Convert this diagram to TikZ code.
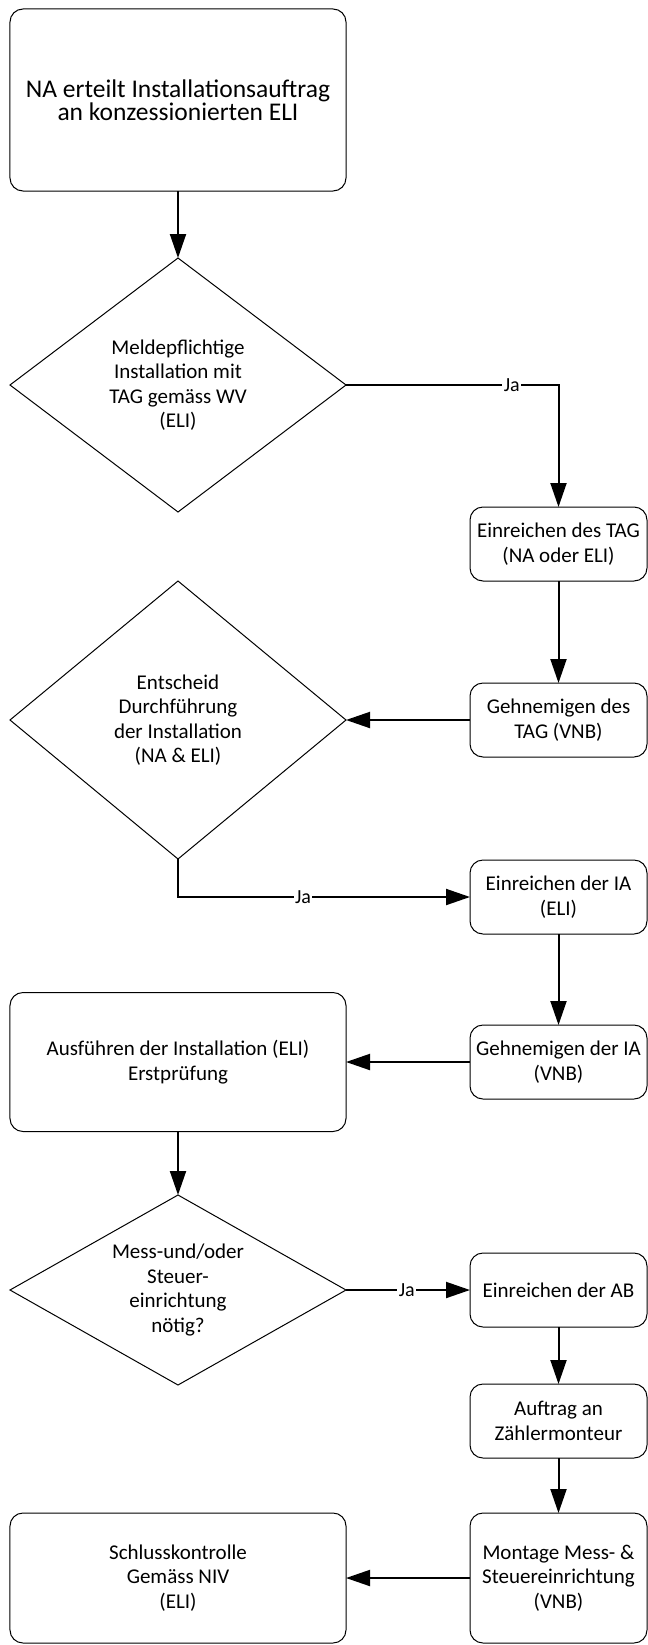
\documentclass[tikz,border=0pt]{standalone}
\usepackage{fontspec}
\setmainfont{Carlito}
\usetikzlibrary{arrows.meta,shapes.geometric}
\begin{document}
\begin{tikzpicture}[x=1bp,y=-1bp,
  box/.style={draw=black,line width=1bp,rounded corners=13bp,inner sep=0pt,outer sep=0pt,
    align=center,font=\fontsize{21bp}{24.5bp}\selectfont},
  dia/.style={draw=black,line width=1bp,shape=diamond,inner sep=0pt,outer sep=0pt},
  diatext/.style={align=center,inner sep=0pt,font=\fontsize{21bp}{24.5bp}\selectfont},
  conn/.style={draw=black,line width=2bp,-{Triangle[length=24bp,width=16bp]}},
  lab/.style={fill=white,inner sep=1.5bp,font=\fontsize{20bp}{22bp}\selectfont}
]
\useasboundingbox (0,0) rectangle (648,1645);
% left column
\node[box,minimum width=336bp,minimum height=182bp,font=\fontsize{25.5bp}{22.5bp}\selectfont] (top) at (178,100) {NA erteilt Installationsauftrag\\an konzessionierten ELI};
\node[dia,minimum width=336bp,minimum height=254bp] (d1) at (178,385) {};
\node[diatext] (d1t) at (178,385) {Meldepflichtige\\Installation mit\\TAG gemäss WV\\(ELI)};
\node[dia,minimum width=336bp,minimum height=278bp] (d2) at (178,720) {};
\node[diatext] (d2t) at (178,720) {Entscheid\\Durchführung\\der Installation\\(NA \& ELI)};
\node[box,minimum width=336bp,minimum height=139bp] (aus) at (178,1062) {Ausführen der Installation (ELI)\\Erstprüfung};
\node[dia,minimum width=336bp,minimum height=190bp] (d3) at (178,1290) {};
\node[diatext] (d3t) at (178,1290) {Mess-und/oder\\Steuer-\\einrichtung\\nötig?};
\node[box,minimum width=336bp,minimum height=130bp] (sch) at (178,1578) {Schlusskontrolle\\Gemäss NIV\\(ELI)};
% right column
\node[box,minimum width=177bp,minimum height=74bp] (t1) at (558.5,544) {Einreichen des TAG\\(NA oder ELI)};
\node[box,minimum width=177bp,minimum height=74bp] (g1) at (558.5,720) {Gehnemigen des\\TAG (VNB)};
\node[box,minimum width=177bp,minimum height=74bp] (i1) at (558.5,897) {Einreichen der IA\\(ELI)};
\node[box,minimum width=177bp,minimum height=74bp] (g2) at (558.5,1062) {Gehnemigen der IA\\(VNB)};
\node[box,minimum width=177bp,minimum height=74bp] (ab) at (558.5,1290) {Einreichen der AB};
\node[box,minimum width=177bp,minimum height=74bp] (auf) at (558.5,1421) {Auftrag an\\Zählermonteur};
\node[box,minimum width=177bp,minimum height=130bp] (mon) at (558.5,1578) {Montage Mess- \&\\Steuereinrichtung\\(VNB)};
% connectors
\draw[conn] (top.south) -- (d1.north);
\draw[conn] (d1.east) -| node[lab,pos=0.39] {Ja} (t1.north);
\draw[conn] (t1.south) -- (g1.north);
\draw[conn] (g1.west) -- (d2.east);
\draw[conn] (d2.south) |- node[lab,pos=0.714] {Ja} (i1.west);
\draw[conn] (i1.south) -- (g2.north);
\draw[conn] (g2.west) -- (aus.east);
\draw[conn] (aus.south) -- (d3.north);
\draw[conn] (d3.east) -- node[lab,pos=0.49] {Ja} (ab.west);
\draw[conn] (ab.south) -- (auf.north);
\draw[conn] (auf.south) -- (mon.north);
\draw[conn] (mon.west) -- (sch.east);
\end{tikzpicture}
\end{document}
